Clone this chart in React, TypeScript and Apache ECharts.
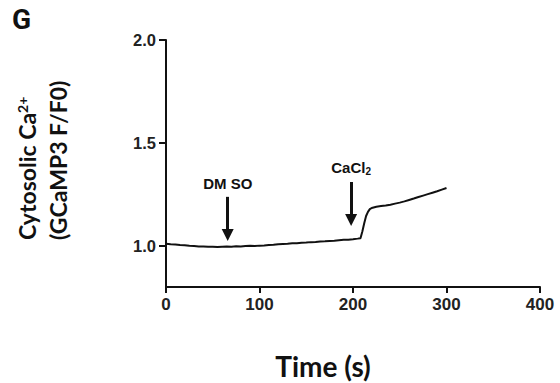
import React, { useEffect, useRef } from "react";
import * as echarts from "echarts";

const times = [0, 5, 10, 15, 20, 25, 30, 35, 40, 45, 50, 55, 60, 65, 70, 75, 80, 85, 90, 95, 100, 105, 110, 115, 120, 125, 130, 135, 140, 145, 150, 155, 160, 165, 170, 175, 180, 185, 190, 195, 200, 205, 208, 210, 212, 214, 216, 218, 220, 225, 230, 235, 240, 245, 250, 255, 260, 265, 270, 275, 280, 285, 290, 295, 300];
const values = [1.010, 1.008, 1.007, 1.004, 1.003, 1.000, 0.999, 0.997, 0.997, 0.995, 0.996, 0.994, 0.996, 0.997, 0.996, 0.998, 0.997, 0.999, 1.000, 0.999, 1.001, 1.002, 1.004, 1.005, 1.008, 1.009, 1.010, 1.012, 1.013, 1.015, 1.016, 1.018, 1.019, 1.021, 1.022, 1.024, 1.025, 1.027, 1.029, 1.030, 1.032, 1.035, 1.037, 1.070, 1.110, 1.145, 1.165, 1.178, 1.184, 1.190, 1.193, 1.196, 1.200, 1.205, 1.210, 1.216, 1.223, 1.230, 1.237, 1.244, 1.251, 1.258, 1.265, 1.273, 1.281];

const arrowNames = ["DMSO", "CaCl2"];
const arrowX = [66, 198];
const arrowTop = [1.238, 1.31];
const arrowBottom = [1.053, 1.126];

const xTicks = [0, 100, 200, 300, 400];
const yTicks = [1.0, 1.5, 2.0];

export default function App() {
  const ref = useRef<HTMLDivElement>(null);
  useEffect(() => {
    if (!ref.current) return;
    const chart = echarts.init(ref.current, null, { renderer: "svg" });
    const tickFont = { fontFamily: "Liberation Sans", fontWeight: "bold" as const, color: "#222" };
    chart.setOption({
      animation: false,
      backgroundColor: "#fff",
      grid: { left: 166, right: 20, top: 40, bottom: 96, containLabel: false },
      xAxis: {
        type: "value",
        min: 0,
        max: 400,
        interval: 100,
        axisLine: { lineStyle: { color: "#111", width: 2 } },
        axisTick: { show: true, length: 6, lineStyle: { color: "#111", width: 2 }, customValues: xTicks },
        axisLabel: { ...tickFont, fontSize: 17, margin: 9, customValues: xTicks },
        splitLine: { show: false },
      },
      yAxis: {
        type: "value",
        min: 0.8,
        max: 2.0,
        axisLine: { show: true, lineStyle: { color: "#111", width: 2 } },
        axisTick: { show: true, length: 7, lineStyle: { color: "#111", width: 2 }, customValues: yTicks },
        axisLabel: { ...tickFont, fontSize: 16.5, margin: 10, customValues: yTicks, formatter: (v: number) => v.toFixed(1) },
        splitLine: { show: false },
      },
      series: [
        {
          type: "line",
          data: times.map((t, i) => [t, values[i]]),
          showSymbol: false,
          symbol: "none",
          lineStyle: { color: "#111", width: 2 },
          silent: true,
          markLine: {
            silent: true,
            symbol: ["none", "triangle"],
            symbolSize: 12,
            lineStyle: { color: "#111", width: 3, type: "solid" },
            label: {
              show: true,
              position: "start",
              distance: 6,
              fontFamily: "Liberation Sans",
              fontWeight: "bold",
              fontSize: 15,
              color: "#111",
              formatter: (p: any) => (p.name === "CaCl2" ? "{t|CaCl}{s|2}" : "{t|DM SO}"),
              rich: {
                t: { fontFamily: "Liberation Sans", fontWeight: "bold", fontSize: 15, color: "#111" },
                s: { fontFamily: "Liberation Sans", fontWeight: "bold", fontSize: 10, color: "#111", verticalAlign: "bottom", padding: [8, 0, 0, 0] },
              },
            },
            emphasis: { disabled: true },
            data: arrowNames.map((n, i) => [
              { name: n, coord: [arrowX[i], arrowTop[i]] },
              { coord: [arrowX[i], arrowBottom[i]] },
            ]),
          },
        },
      ],
      graphic: [
        {
          type: "text",
          x: 12,
          y: 19,
          style: { text: "G", font: "bold 28px Roboto", fill: "#111", verticalAlign: "middle", align: "left" },
        },
        {
          type: "text",
          x: 27,
          y: 240,
          rotation: Math.PI / 2,
          style: {
            text: "{a|Cytosolic Ca}{b|2+}",
            align: "left",
            verticalAlign: "middle",
            rich: {
              a: { fontFamily: "Lato", fontWeight: "bold", fontSize: 23, fill: "#111" },
              b: { fontFamily: "Lato", fontWeight: "bold", fontSize: 14, fill: "#111", verticalAlign: "top", padding: [0, 0, 10, 0] },
            },
          },
        },
        {
          type: "text",
          x: 58,
          y: 240,
          rotation: Math.PI / 2,
          style: {
            text: "(GCaMP3 F/F0)",
            align: "left",
            verticalAlign: "middle",
            fontFamily: "Lato",
            fontWeight: "bold",
            fontSize: 23,
            fill: "#111",
          },
        },
        {
          type: "text",
          x: 323,
          y: 366,
          style: { text: "Time (s)", align: "center", verticalAlign: "middle", fontFamily: "Lato", fontWeight: "bold", fontSize: 28, fill: "#111" },
        },
      ],
    });
    return () => chart.dispose();
  }, []);
  return <div ref={ref} style={{ width: 560, height: 383, position: "absolute", left: 0, top: 0 }} />;
}
